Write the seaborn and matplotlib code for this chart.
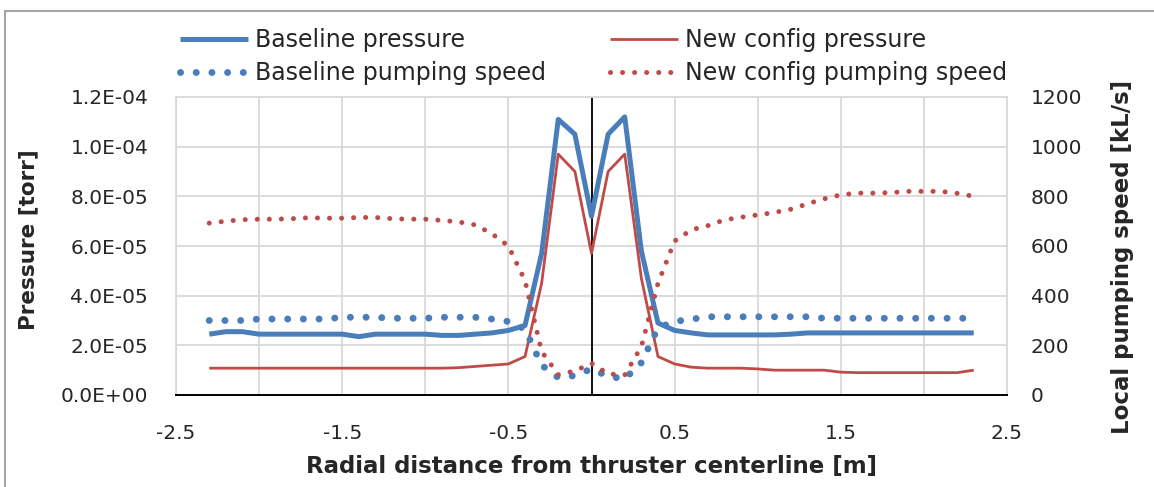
import numpy as np
import pandas as pd
import matplotlib
matplotlib.use("Agg")
import matplotlib.pyplot as plt
import seaborn as sns
from matplotlib.ticker import FuncFormatter, FixedLocator
from matplotlib.patches import Rectangle

# ---------------- data ----------------
x_m = [-2.3, -2.2, -2.1, -2.0, -1.9, -1.8, -1.7, -1.6, -1.5, -1.4, -1.3, -1.2,
       -1.1, -1.0, -0.9, -0.8, -0.7, -0.6, -0.5, -0.4, -0.3, -0.2, -0.1, 0.0,
       0.1, 0.2, 0.3, 0.4, 0.5, 0.6, 0.7, 0.8, 0.9, 1.0, 1.1, 1.2, 1.3, 1.4,
       1.5, 1.6, 1.7, 1.8, 1.9, 2.0, 2.1, 2.2, 2.3]

baseline_pressure = [2.45e-5, 2.55e-5, 2.55e-5, 2.45e-5, 2.45e-5, 2.45e-5, 2.45e-5, 2.45e-5,
                     2.45e-5, 2.35e-5, 2.45e-5, 2.45e-5, 2.45e-5, 2.45e-5, 2.40e-5, 2.40e-5,
                     2.45e-5, 2.50e-5, 2.60e-5, 2.80e-5, 5.70e-5, 1.11e-4, 1.05e-4, 7.20e-5,
                     1.05e-4, 1.12e-4, 5.80e-5, 2.90e-5, 2.60e-5, 2.50e-5, 2.42e-5, 2.42e-5,
                     2.42e-5, 2.42e-5, 2.42e-5, 2.45e-5, 2.50e-5, 2.50e-5, 2.50e-5, 2.50e-5,
                     2.50e-5, 2.50e-5, 2.50e-5, 2.50e-5, 2.50e-5, 2.50e-5, 2.50e-5]

newcfg_pressure = [1.08e-5, 1.08e-5, 1.08e-5, 1.08e-5, 1.08e-5, 1.08e-5, 1.08e-5, 1.08e-5,
                   1.08e-5, 1.08e-5, 1.08e-5, 1.08e-5, 1.08e-5, 1.08e-5, 1.08e-5, 1.10e-5,
                   1.15e-5, 1.20e-5, 1.25e-5, 1.55e-5, 4.50e-5, 9.70e-5, 9.00e-5, 5.70e-5,
                   9.00e-5, 9.70e-5, 4.70e-5, 1.55e-5, 1.25e-5, 1.12e-5, 1.08e-5, 1.08e-5,
                   1.08e-5, 1.05e-5, 1.00e-5, 1.00e-5, 1.00e-5, 1.00e-5, 9.20e-6, 9.00e-6,
                   9.00e-6, 9.00e-6, 9.00e-6, 9.00e-6, 9.00e-6, 9.00e-6, 1.00e-5]

baseline_speed = [300, 300, 300, 306, 306, 306, 306, 306, 313, 313, 313, 309,
                  309, 309, 313, 313, 313, 306, 296, 265, 120, 70, 78, 105,
                  75, 65, 130, 270, 296, 305, 315, 315, 315, 315, 315, 315,
                  315, 309, 309, 309, 309, 309, 309, 309, 309, 309, 309]

newcfg_speed = [692, 700, 706, 708, 708, 710, 714, 712, 712, 715, 715, 710,
                708, 708, 703, 697, 685, 650, 600, 460, 175, 82, 97, 128,
                85, 80, 195, 450, 620, 665, 682, 705, 716, 725, 735, 748,
                770, 790, 806, 813, 813, 815, 820, 820, 820, 812, 800]

series_labels = ["Baseline pressure", "Baseline pumping speed",
                 "New config pressure", "New config pumping speed"]
x_ticks = [-2.5, -1.5, -0.5, 0.5, 1.5, 2.5]
x_tick_labels = ["-2.5", "-1.5", "-0.5", "0.5", "1.5", "2.5"]
x_grid_minor = [-2.0, -1.0, 0.0, 1.0, 2.0]
p_ticks = [0.0, 2e-5, 4e-5, 6e-5, 8e-5, 1.0e-4, 1.2e-4]
s_ticks = [0, 200, 400, 600, 800, 1000, 1200]

df = pd.DataFrame({"x": x_m,
                   "bp": baseline_pressure, "np": newcfg_pressure,
                   "bs": baseline_speed, "ns": newcfg_speed})

# ---------------- style ----------------
sns.set_style("white")
plt.rcParams["font.family"] = ["DejaVu Sans"]

BLUE = "#4A7EBB"
RED = "#BE4B48"
GRID = "#D9D9D9"
FS_TICK = 14.5
FS_XLAB = 16.5
FS_YLAB = 15.5
FS_LEG = 17

W, H = 1154, 487
fig = plt.figure(figsize=(W / 100, H / 100), dpi=100)
L, R, B, T = 176, 1007, 395, 97
ax = fig.add_axes([L / W, 1 - B / H, (R - L) / W, (B - T) / H])
ax2 = ax.twinx()

# ---------------- lines ----------------
sns.lineplot(data=df, x="x", y="bp", ax=ax, color=BLUE, linewidth=3.6,
             errorbar=None, label=series_labels[0], solid_capstyle="butt", zorder=3)
sns.lineplot(data=df, x="x", y="np", ax=ax, color=RED, linewidth=2.0,
             errorbar=None, label=series_labels[2], solid_capstyle="butt", zorder=3)
sns.lineplot(data=df, x="x", y="bs", ax=ax2, color=BLUE, linewidth=5.0,
             errorbar=None, label=series_labels[1],
             linestyle=(0, (0.01, 2.25)), dash_capstyle="round")
sns.lineplot(data=df, x="x", y="ns", ax=ax2, color=RED, linewidth=3.6,
             errorbar=None, label=series_labels[3],
             linestyle=(0, (0.01, 2.4)), dash_capstyle="round")

ax.axvline(0, color="black", lw=1.3, zorder=2)

# ---------------- axes ----------------
ax.set_xlim(-2.5, 2.5)
ax.set_ylim(0, 1.2e-4)
ax2.set_ylim(0, 1200)

ax.xaxis.set_major_locator(FixedLocator(x_ticks))
ax.xaxis.set_minor_locator(FixedLocator(x_grid_minor))
ax.set_xticklabels(x_tick_labels)
ax.yaxis.set_major_locator(FixedLocator(p_ticks))
ax.yaxis.set_major_formatter(FuncFormatter(lambda v, pos: f"{v:.1E}"))
ax2.yaxis.set_major_locator(FixedLocator(s_ticks))
ax2.yaxis.set_major_formatter(FuncFormatter(lambda v, pos: f"{int(round(v))}"))

ax.grid(True, which="both", axis="both", color=GRID, lw=1.3, zorder=0)
ax.set_axisbelow(True)
ax2.grid(False)

ax.tick_params(axis="x", which="major", direction="out", length=7, width=1.3,
               color="black", labelsize=FS_TICK, pad=14)
ax.tick_params(axis="x", which="minor", length=0)
ax.tick_params(axis="y", length=0, labelsize=FS_TICK, pad=20)
ax2.tick_params(axis="y", length=0, labelsize=FS_TICK, pad=17)

for name, sp in ax.spines.items():
    sp.set_color(GRID)
    sp.set_linewidth(1.3)
ax.spines["bottom"].set_color("black")
ax.spines["bottom"].set_linewidth(1.4)
for sp in ax2.spines.values():
    sp.set_visible(False)

ax.set_xlabel("Radial distance from thruster centerline [m]", fontsize=FS_XLAB,
              fontweight="bold", va="center", ha="center")
ax.xaxis.set_label_coords(0.5, (B - 466) / (B - T))
ax.set_ylabel("Pressure [torr]", fontsize=FS_YLAB, fontweight="bold",
              va="center", ha="center")
ax.yaxis.set_label_coords((28 - L) / (R - L), (B - 240) / (B - T))
ax2.set_ylabel("Local pumping speed [kL/s]", fontsize=FS_XLAB, fontweight="bold",
               va="center", ha="center", rotation=90)
ax2.yaxis.set_label_coords((1123 - L) / (R - L), (B - 257) / (B - T))

# ---------------- legend ----------------
h1, l1 = ax.get_legend_handles_labels()
h2, l2 = ax2.get_legend_handles_labels()
for a in (ax, ax2):
    if a.get_legend() is not None:
        a.get_legend().remove()
hmap = dict(zip(l1 + l2, h1 + h2))
handles = [hmap[s] for s in series_labels]
fs_px = FS_LEG * 100 / 72
fig.legend(handles, series_labels, ncol=2, loc="upper left",
           bbox_to_anchor=(180 / W, 1 - 28 / H), frameon=False,
           fontsize=FS_LEG, handlelength=68 / fs_px, handletextpad=7 / fs_px,
           columnspacing=64 / fs_px, labelspacing=0.38, borderpad=0, borderaxespad=0)

# chart frame (Excel chart border, visible on left/top only)
fig.add_artist(Rectangle((5 / W, -0.1), 1.2, 1.1 - 10.5 / H,
                         transform=fig.transFigure, fill=False,
                         ec="#A6A6A6", lw=1.5))

fig.savefig("out.png", dpi=100)
